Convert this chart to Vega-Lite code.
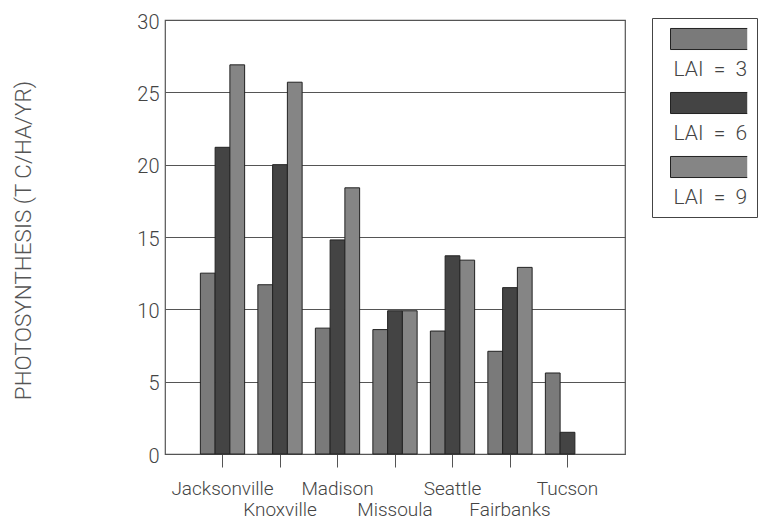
{
  "$schema": "https://vega.github.io/schema/vega-lite/v6.json",
  "width": 460,
  "height": 434,
  "autosize": {"type": "none"},
  "padding": {"left": 165, "top": 20, "right": 138, "bottom": 66},
  "background": "white",
  "config": {
    "view": {"stroke": "#555", "strokeWidth": 1.2},
    "font": "Roboto"
  },
  "data": {
    "values": [
      {"city": "Jacksonville", "lai": "LAI = 3", "value": 12.5},
      {"city": "Jacksonville", "lai": "LAI = 6", "value": 21.2},
      {"city": "Jacksonville", "lai": "LAI = 9", "value": 26.9},
      {"city": "Knoxville", "lai": "LAI = 3", "value": 11.7},
      {"city": "Knoxville", "lai": "LAI = 6", "value": 20.0},
      {"city": "Knoxville", "lai": "LAI = 9", "value": 25.7},
      {"city": "Madison", "lai": "LAI = 3", "value": 8.7},
      {"city": "Madison", "lai": "LAI = 6", "value": 14.8},
      {"city": "Madison", "lai": "LAI = 9", "value": 18.4},
      {"city": "Missoula", "lai": "LAI = 3", "value": 8.6},
      {"city": "Missoula", "lai": "LAI = 6", "value": 9.9},
      {"city": "Missoula", "lai": "LAI = 9", "value": 9.9},
      {"city": "Seattle", "lai": "LAI = 3", "value": 8.5},
      {"city": "Seattle", "lai": "LAI = 6", "value": 13.7},
      {"city": "Seattle", "lai": "LAI = 9", "value": 13.4},
      {"city": "Fairbanks", "lai": "LAI = 3", "value": 7.1},
      {"city": "Fairbanks", "lai": "LAI = 6", "value": 11.5},
      {"city": "Fairbanks", "lai": "LAI = 9", "value": 12.9},
      {"city": "Tucson", "lai": "LAI = 3", "value": 5.6},
      {"city": "Tucson", "lai": "LAI = 6", "value": 1.5}
    ]
  },
  "mark": {"type": "bar", "stroke": "#222", "strokeWidth": 1},
  "encoding": {
    "x": {
      "field": "city",
      "type": "nominal",
      "sort": ["Jacksonville", "Knoxville", "Madison", "Missoula", "Seattle", "Fairbanks", "Tucson"],
      "scale": {"paddingInner": 0.23, "paddingOuter": 0.615},
      "axis": {
        "title": null,
        "labelAngle": 0,
        "domain": false,
        "grid": false,
        "ticks": true,
        "tickSize": 13,
        "tickColor": "#555",
        "tickWidth": 1,
        "labelFont": "Roboto",
        "labelFontWeight": 300,
        "labelFontSize": 19,
        "labelColor": "#444",
        "labelPadding": 12,
        "labelBaseline": "top",
        "labelLineHeight": 21,
        "labelOverlap": false,
        "labelExpr": "indexof(['Knoxville','Missoula','Fairbanks'], datum.value) >= 0 ? ['', datum.value] : datum.value"
      }
    },
    "xOffset": {"field": "lai", "type": "nominal", "sort": ["LAI = 3", "LAI = 6", "LAI = 9"]},
    "y": {
      "field": "value",
      "type": "quantitative",
      "scale": {"domain": [0, 30], "nice": false},
      "axis": {
        "values": [0, 5, 10, 15, 20, 25, 30],
        "title": "PHOTOSYNTHESIS (T C/HA/YR)",
        "grid": true,
        "gridColor": "#555",
        "gridWidth": 1,
        "ticks": false,
        "domain": false,
        "labelFont": "Roboto",
        "labelFontWeight": 300,
        "labelFontSize": 20,
        "labelColor": "#444",
        "labelPadding": 6,
        "labelOffset": 2,
        "titleFont": "Roboto",
        "titleFontWeight": 300,
        "titleFontSize": 22.5,
        "titleColor": "#555",
        "titleX": -142,
        "titleY": 220,
        "titleBaseline": "middle",
        "titleAngle": -90
      }
    },
    "fill": {
      "field": "lai",
      "type": "nominal",
      "scale": {"domain": ["LAI = 3", "LAI = 6", "LAI = 9"], "range": ["#7a7a7a", "#444444", "#858585"]},
      "legend": {
        "orient": "none",
        "legendX": 487,
        "legendY": -2,
        "title": null,
        "symbolType": "M-1,-0.27H1V0.27H-1Z",
        "symbolSize": 6084,
        "symbolStrokeColor": "#222",
        "symbolStrokeWidth": 1,
        "symbolOpacity": 1,
        "symbolOffset": 9,
        "clipHeight": 24,
        "labelFont": "Roboto",
        "labelFontWeight": 300,
        "labelFontSize": 21,
        "labelColor": "#444",
        "labelAlign": "left",
        "labelOffset": -75.5,
        "labelExpr": "'LAI\u00a0\u00a0=\u00a0\u00a0' + slice(datum.label, 6) + '\u00a0'",
        "rowPadding": 11,
        "padding": 9,
        "strokeColor": "#444",
        "encode": {"labels": {"update": {"dy": {"value": 31}}}}
      }
    }
  }
}
